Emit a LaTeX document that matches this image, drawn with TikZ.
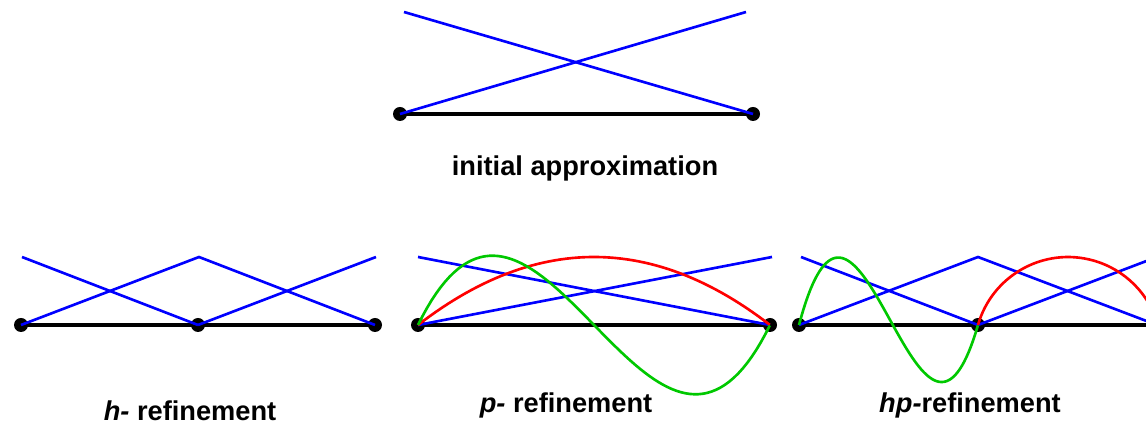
\documentclass[tikz,border=0pt]{standalone}
\usepackage{fontspec}
\setmainfont{Liberation Sans}
\usepackage{xcolor}
\usepackage{tikz}
\usetikzlibrary{calc}
\definecolor{linblue}{HTML}{0000FF}
\definecolor{quadred}{HTML}{FF0000}
\definecolor{cubgreen}{HTML}{00C800}
\tikzset{
  vtx/.style   = {circle, fill=black, inner sep=0pt, minimum size=0.28cm},
  mesh/.style  = {draw=black, line width=2.3pt},
  lin/.style   = {draw=linblue, line width=1.5pt},
  quad/.style  = {draw=quadred, line width=1.5pt},
  cub/.style   = {draw=cubgreen, line width=1.5pt},
  lbl/.style   = {font=\bfseries\fontsize{15.5}{18}\selectfont, inner sep=0pt, anchor=base},
}

\begin{document}
\begin{tikzpicture}[x=0.02cm, y=0.02cm]
  \useasboundingbox (0,0) rectangle (1146,425);
  \clip (0,0) rectangle (1146,425);

  % initial approximation
  \node[vtx] (i1) at (400,311) {};
  \node[vtx] (i2) at (753,311) {};
  \coordinate (i1t) at (404,413);
  \coordinate (i2t) at (746,413);
  \draw[mesh] (i1.center) -- (i2.center);
  \draw[lin] (i1.center) -- (i2t);
  \draw[lin] (i1t) -- (i2.center);
  \node[lbl] (lini) at (585,249) {initial approximation};

  % h-refinement
  \node[vtx] (h1) at (21,100) {};
  \node[vtx] (h2) at (198,100) {};
  \node[vtx] (h3) at (375,100) {};
  \coordinate (h1t) at (22,168);
  \coordinate (h2t) at (199,168);
  \coordinate (h3t) at (376,168);
  \draw[mesh] (h1.center) -- (h3.center);
  \draw[lin] (h1t) -- (h2.center);
  \draw[lin] (h1.center) -- (h2t) -- (h3.center);
  \draw[lin] (h2.center) -- (h3t);
  \node[lbl] (lh) at (190,4) {\itshape h-\upshape\ refinement};

  % p-refinement
  \node[vtx] (p1) at (418,100) {};
  \node[vtx] (p2) at (770,100) {};
  \coordinate (p1t) at (418,168);
  \coordinate (p2t) at (772,168);
  \draw[mesh] (p1.center) -- (p2.center);
  \draw[lin] (p1.center) -- (p2t);
  \draw[lin] (p1t) -- (p2.center);
  \draw[quad, shift={(p1.center)}] plot[domain=0:1, samples=60, variable=\t]
    ({352*\t}, {272*\t*(1-\t)});
  \draw[cub, shift={(p1.center)}] plot[domain=0:1, samples=80, variable=\t]
    ({352*\t}, {720*\t*(1-\t)*(1-2*\t)});
  \node[lbl] (lp) at (566,12) {\itshape p-\upshape\ refinement};

  % hp-refinement
  \node[vtx] (hp1) at (799,100) {};
  \node[vtx] (hp2) at (978,100) {};
  \coordinate (hp3) at (1157,100);
  \coordinate (hp1t) at (801,168);
  \coordinate (hp2t) at (978,168);
  \coordinate (hp3t) at (1157,168);
  \draw[mesh] (hp1.center) -- (hp3);
  \draw[lin] (hp1t) -- (hp2.center);
  \draw[lin] (hp1.center) -- (hp2t) -- (hp3);
  \draw[lin] (hp2.center) -- (hp3t);
  \draw[quad] (hp2.center) arc[start angle=164.1, end angle=15.9, radius=93.6];
  \draw[cub, shift={(hp1.center)}] plot[domain=0:1, samples=80, variable=\t]
    ({179*\t}, {646*\t*(1-\t)*(1-2*\t) + 31.2*\t*(1-\t)});
  \node[lbl] (lhp) at (970,12) {\itshape hp-\upshape refinement};
\end{tikzpicture}
\end{document}
